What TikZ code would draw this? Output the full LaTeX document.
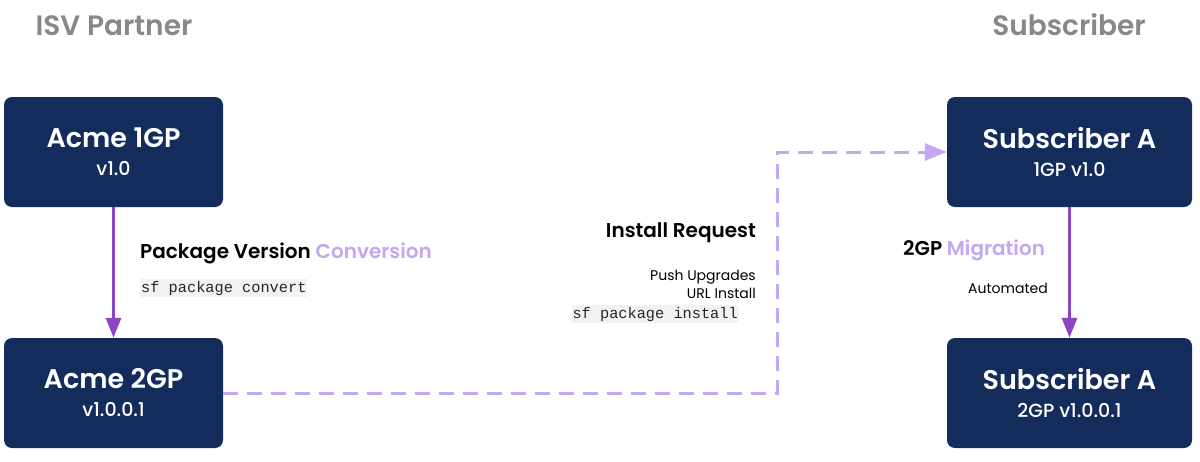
\documentclass[tikz,border=0pt]{standalone}
\usepackage{fontspec}
\setmainfont{Poppins}[BoldFont={Poppins SemiBold}]
\newfontfamily\medfont{Poppins Medium}
\setmonofont{Liberation Mono}
\usetikzlibrary{arrows.meta}
\definecolor{navy}{HTML}{142C5C}
\definecolor{darkpurple}{HTML}{8C45C5}
\definecolor{lightpurple}{HTML}{C4A6F1}
\definecolor{headgray}{HTML}{888888}
\definecolor{codebg}{HTML}{F2F2F2}
\tikzset{
  pkgbox/.style={rounded corners=8pt, fill=navy, text=white, minimum height=110pt, align=center, inner sep=0pt, font=\fontsize{19}{28}\selectfont},
  leftbox/.style={pkgbox, minimum width=219pt},
  rightbox/.style={pkgbox, minimum width=245pt},
  solidarrow/.style={draw=darkpurple, line width=3pt, -{Triangle[length=20pt,width=15pt]}},
  dasharrow/.style={draw=lightpurple, line width=3pt, dash pattern=on 15pt off 9pt, -{Triangle[length=22pt,width=17pt]}},
  heading/.style={text=headgray, font=\fontsize{28}{32}\selectfont\bfseries, anchor=base, inner sep=0pt},
  title/.style={font=\fontsize{20}{24}\selectfont\bfseries, inner sep=0pt},
  small/.style={font=\fontsize{14}{18}\selectfont, inner sep=0pt},
  code/.style={font=\fontsize{15.3}{18}\ttfamily, fill=codebg, inner xsep=1pt, inner ysep=2pt, text=black!85}
}
\newcommand{\boxtext}[2]{{\fontsize{27}{28}\selectfont\bfseries #1}\\{\medfont #2}}
\begin{document}
\begin{tikzpicture}[x=1pt,y=-1pt]
\useasboundingbox (0,0) rectangle (1200,461);
\node[heading] (hisv) at (114,35) {ISV Partner};
\node[heading] (hsub) at (1069,35) {Subscriber};

\node[leftbox] (acme1) at (113.5,152) {\boxtext{Acme 1GP}{v1.0}};
\node[leftbox] (acme2) at (113.5,393) {\boxtext{Acme 2GP}{v1.0.0.1}};
\node[rightbox] (subA) at (1069.5,152) {\boxtext{Subscriber A}{1GP v1.0}};
\node[rightbox] (subB) at (1069.5,393) {\boxtext{Subscriber A}{2GP v1.0.0.1}};

\draw[solidarrow] (acme1.south) -- (acme2.north);
\draw[solidarrow] (subA.south) -- (subB.north);

\coordinate (bend) at (777,393);
\draw[dasharrow] (acme2.east) -- (bend) |- (subA.west);

\node[title, anchor=base west] (pvc) at (140,258) {Package Version \textcolor{lightpurple}{Conversion}};
\node[code, anchor=base west] (conv) at (140,292) {sf package convert};

\node[title, anchor=base east] (ireq) at (756,237) {Install Request};
\node[small, anchor=base east] (push) at (756,280) {Push Upgrades};
\node[small, anchor=base east] (url) at (756,298) {URL Install};
\node[code, anchor=base east] (inst) at (739,318) {sf package install};

\node[title, anchor=base west] (mig) at (903,255) {2GP \textcolor{lightpurple}{Migration}};
\node[small, anchor=base east] (auto) at (1048,293) {Automated};
\end{tikzpicture}
\end{document}
